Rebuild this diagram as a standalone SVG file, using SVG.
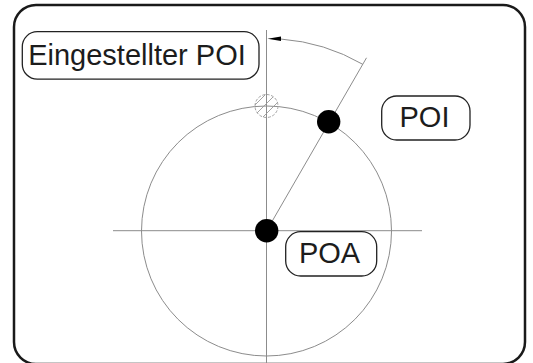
<svg xmlns="http://www.w3.org/2000/svg" width="533" height="363" viewBox="0 0 533 363">
<style>
.thin{fill:none;stroke:#8c8c8c;stroke-width:1}
.box{fill:#fff;stroke:#222;stroke-width:1.3}
.lbl{font-family:"Liberation Sans",Arial,sans-serif;font-size:29px;fill:#1c1c1c;text-anchor:middle}
.dot{fill:#000}
</style>
<defs>
<clipPath id="hc"><circle cx="266.5" cy="106" r="11.5"/></clipPath>
</defs>
<rect x="14" y="5" width="511" height="359" rx="22" fill="#fff" stroke="#1a1a1a" stroke-width="2.5"/>
<g id="connectors">
<line class="thin" x1="266.5" y1="30" x2="266.5" y2="363"/>
<line class="thin" x1="113" y1="230.7" x2="422" y2="230.7"/>
<circle class="thin" cx="266.5" cy="231" r="125"/>
<line class="thin" x1="266.5" y1="231" x2="366.5" y2="57.8"/>
<path class="thin" d="M 281 39.05 A 192.5 192.5 0 0 1 362.75 64.3"/>
<polygon points="267.5,38.8 281,36.6 281,41" fill="#000"/>
</g>
<g id="ghost">
<circle cx="266.5" cy="106" r="11.5" fill="none" stroke="#999" stroke-width="0.9" stroke-dasharray="3 1.5"/>
<g clip-path="url(#hc)" stroke="#999" stroke-width="0.9">
<line x1="248" y1="112" x2="268" y2="92"/>
<line x1="252" y1="118" x2="274" y2="96"/>
<line x1="258" y1="122" x2="280" y2="100"/>
</g>
</g>
<g id="poa-dot"><circle class="dot" cx="266.7" cy="230.7" r="11.7"/></g>
<g id="poi-dot"><circle class="dot" cx="328.7" cy="121.7" r="11.7"/></g>
<g id="label-eingestellter">
<rect class="box" x="22.3" y="31.7" width="236.7" height="47.5" rx="15"/>
<text class="lbl" x="137" y="64.5">Eingestellter POI</text>
</g>
<g id="label-poi">
<rect class="box" x="381.7" y="96" width="88.3" height="44" rx="15"/>
<text class="lbl" x="424.5" y="127">POI</text>
</g>
<g id="label-poa">
<rect class="box" x="285.7" y="231.7" width="91" height="44.3" rx="15"/>
<text class="lbl" x="329.5" y="263">POA</text>
</g>
</svg>
